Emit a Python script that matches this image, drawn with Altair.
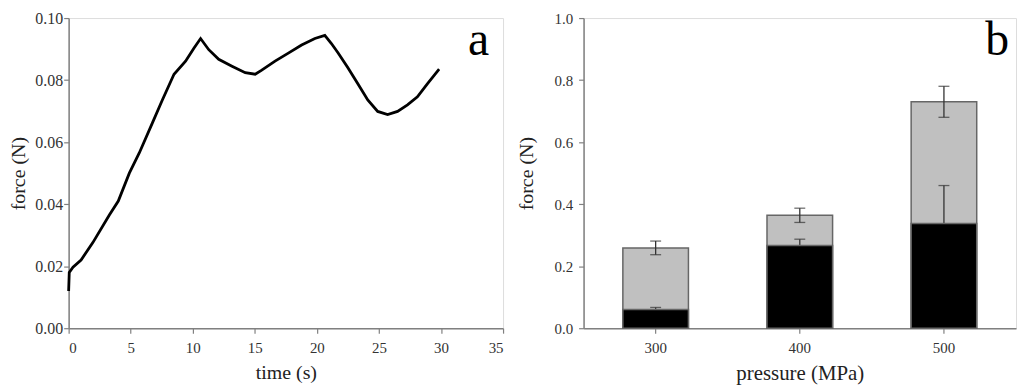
import altair as alt
import pandas as pd

# ---- panel a: force vs time ----
time_s = [0, 0.05, 0.35, 1.0, 1.95, 3.28, 4.0, 4.89, 5.69, 6.75, 7.55, 8.49, 9.42,
          10.09, 10.63, 11.29, 12.09, 13.16, 14.23, 15.03, 15.56, 16.63, 17.7, 18.77,
          19.84, 20.64, 21.17, 21.7, 22.5, 23.3, 24.1, 24.9, 25.7, 26.5, 27.3, 28.1,
          28.9, 29.85]
force_a = [0.012, 0.018, 0.0197, 0.022, 0.0276, 0.0365, 0.041, 0.0500, 0.0565, 0.0662,
           0.0736, 0.0819, 0.0861, 0.0903, 0.0934, 0.0898, 0.0867, 0.0845, 0.0824,
           0.0819, 0.0832, 0.0861, 0.0887, 0.0913, 0.0934, 0.0944, 0.0918, 0.0888,
           0.084, 0.0788, 0.0736, 0.0699, 0.0689, 0.0699, 0.072, 0.0746, 0.0788, 0.0835]

# ---- panel b: stacked bars ----
pressure = ["300", "400", "500"]
total_force = [0.259, 0.364, 0.730]
total_err = [0.022, 0.023, 0.050]
black_force = [0.060, 0.267, 0.338]
black_err = [0.007, 0.020, 0.122]

FONT = "Liberation Serif"
AX = "#808080"
LAB = "#333333"

df_a = pd.DataFrame({"t": time_s, "f": force_a})

rows = []
for p, tv, te, bv, be in zip(pressure, total_force, total_err, black_force, black_err):
    rows.append({"p": p, "total": tv, "black": bv,
                 "tlo": tv - te, "thi": tv + te, "blo": bv - be, "bhi": bv + be})
df_b = pd.DataFrame(rows)

W_A, W_B, H = 437, 435, 312

axis_common = dict(grid=False, domainColor=AX, tickColor=AX, domainWidth=1.5,
                   tickWidth=1.2, tickSize=5, labelColor=LAB, labelFont=FONT,
                   titleFont=FONT, titleFontWeight="normal", titleColor="#222222")

line = alt.Chart(df_a).mark_line(color="black", strokeWidth=2.8).encode(
    x=alt.X("t:Q", scale=alt.Scale(domain=[0, 35], nice=False),
            axis=alt.Axis(title="time (s)", values=[0, 5, 10, 15, 20, 25, 30, 35],
                          labelFontSize=15, titleFontSize=20,
                          labelPadding=7, titlePadding=8, **axis_common)),
    y=alt.Y("f:Q", scale=alt.Scale(domain=[0, 0.1], nice=False),
            axis=alt.Axis(title="force (N)", values=[0, 0.02, 0.04, 0.06, 0.08, 0.10],
                          labelFontSize=16, titleFontSize=20,
                          format=".2f", labelPadding=1, titlePadding=6, **axis_common)),
)
label_a = alt.Chart(pd.DataFrame({"s": ["a"]})).mark_text(
    font=FONT, fontSize=48, align="right", baseline="alphabetic", color="black"
).encode(text="s:N", x=alt.value(W_A - 14), y=alt.value(37))

panel_a = alt.layer(line, label_a).properties(width=W_A, height=H)

xb = alt.X("p:N", sort=pressure,
           scale=alt.Scale(paddingInner=0.545, paddingOuter=0.2725),
           axis=alt.Axis(title="pressure (MPa)", labelAngle=0, labelPadding=7,
                         labelFontSize=15, titleFontSize=21,
                         titlePadding=8, **axis_common))
yb_axis = alt.Axis(title="force (N)", values=[0, 0.2, 0.4, 0.6, 0.8, 1.0], format=".1f",
                   labelFontSize=15, titleFontSize=20,
                   labelPadding=6, titlePadding=18, **axis_common)
yscale = alt.Scale(domain=[0, 1], nice=False)

base = alt.Chart(df_b)
gray_bar = base.mark_bar(color="#c0c0c0", stroke="#666666", strokeWidth=1.5).encode(
    x=xb, y=alt.Y("total:Q", scale=yscale, axis=yb_axis))
black_bar = base.mark_bar(color="#000000", stroke="#666666", strokeWidth=1.5).encode(
    x=xb, y=alt.Y("black:Q", scale=yscale))

ERR = "#333333"
t_rule = base.mark_rule(color=ERR, strokeWidth=1.3).encode(x=xb, y="tlo:Q", y2="thi:Q")
t_cap_lo = base.mark_tick(color=ERR, size=11, thickness=1.3).encode(x=xb, y="tlo:Q")
t_cap_hi = base.mark_tick(color=ERR, size=11, thickness=1.3).encode(x=xb, y="thi:Q")
b_rule = base.mark_rule(color=ERR, strokeWidth=1.3).encode(x=xb, y="blo:Q", y2="bhi:Q")
b_cap_hi = base.mark_tick(color=ERR, size=11, thickness=1.3).encode(x=xb, y="bhi:Q")

label_b = alt.Chart(pd.DataFrame({"s": ["b"]})).mark_text(
    font=FONT, fontSize=48, align="right", baseline="alphabetic", color="black"
).encode(text="s:N", x=alt.value(W_B - 7), y=alt.value(37))

panel_b = alt.layer(gray_bar, b_rule, black_bar, b_cap_hi, t_rule, t_cap_lo, t_cap_hi,
                    label_b).properties(width=W_B, height=H)

chart = alt.hconcat(panel_a, panel_b, spacing=10).properties(
    padding={"left": 0, "top": 0, "right": 0, "bottom": 0}
).configure_view(stroke=AX, strokeWidth=1.5).configure(font=FONT)

chart.save("out.html", embed_options={"renderer": "svg", "actions": False})
